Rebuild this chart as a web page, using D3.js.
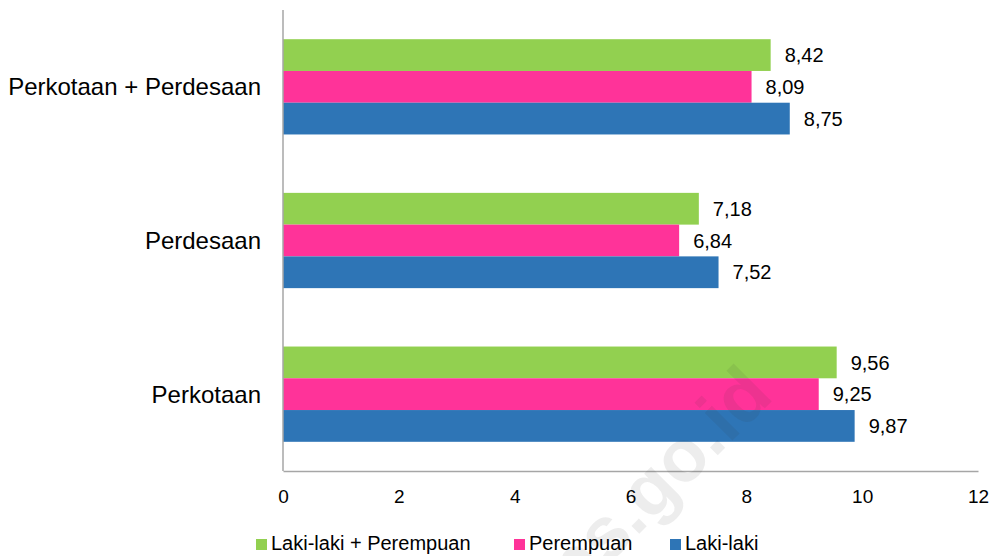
<!DOCTYPE html>
<html>
<head>
<meta charset="utf-8">
<script src="https://cdn.jsdelivr.net/npm/d3@7"></script>
<style>
  html, body { margin: 0; padding: 0; background: #fff; }
  svg { display: block; font-family: "Liberation Sans", Arial, sans-serif; }
</style>
</head>
<body>
<svg id="chart" width="1000" height="556"></svg>
<script>
// Categories, top to bottom
const categories = ["Perkotaan + Perdesaan", "Perdesaan", "Perkotaan"];
// Series names (legend order) and values per category
const seriesNames = ["Laki-laki + Perempuan", "Perempuan", "Laki-laki"];
const totalValues = [8.42, 7.18, 9.56];
const femaleValues = [8.09, 6.84, 9.25];
const maleValues = [8.75, 7.52, 9.87];
const seriesColors = ["#92D050", "#FF3399", "#2E75B6"];
const xTicks = [0, 2, 4, 6, 8, 10, 12];

const seriesValues = [totalValues, femaleValues, maleValues];
const fmt = v => v.toFixed(2).replace(".", ",");

const svg = d3.select("#chart");
const plotLeft = 283, plotRight = 978, plotTop = 10, plotBottom = 471;

const x = d3.scaleLinear().domain([0, 12]).range([plotLeft, plotRight]);
const y = d3.scaleBand().domain(categories).range([plotTop, plotBottom]).paddingInner(0.38).paddingOuter(0.19);
const ySub = d3.scaleBand().domain(seriesNames).range([0, y.bandwidth()]);

// Bars and value labels
const groups = svg.append("g").selectAll("g")
  .data(categories)
  .join("g")
  .attr("transform", d => `translate(0,${y(d)})`);

groups.each(function(cat, ci) {
  const g = d3.select(this);
  seriesNames.forEach((s, si) => {
    const v = seriesValues[si][ci];
    g.append("rect")
      .attr("x", x(0))
      .attr("y", ySub(s))
      .attr("width", x(v) - x(0))
      .attr("height", ySub.bandwidth())
      .attr("fill", seriesColors[si]);
    g.append("text")
      .attr("x", x(v) + 14)
      .attr("y", ySub(s) + ySub.bandwidth() / 2)
      .attr("dy", "0.36em")
      .attr("font-size", 20)
      .attr("fill", "#000")
      .text(fmt(v));
  });
});

// Category labels
svg.append("g").selectAll("text")
  .data(categories)
  .join("text")
  .attr("x", 261)
  .attr("y", d => y(d) + y.bandwidth() / 2)
  .attr("dy", "0.35em")
  .attr("text-anchor", "end")
  .attr("font-size", 24)
  .attr("fill", "#000")
  .text(d => d);

// Axis lines
svg.append("line")
  .attr("x1", plotLeft).attr("x2", plotLeft).attr("y1", plotTop).attr("y2", plotBottom)
  .attr("stroke", "#a6a6a6").attr("stroke-width", 1.5);

const xAxis = d3.axisBottom(x).tickValues(xTicks).tickSize(0).tickPadding(19).tickFormat(d => d);
const ax = svg.append("g").attr("transform", `translate(0,${plotBottom})`).call(xAxis);
ax.select(".domain").attr("stroke", "#a6a6a6").attr("stroke-width", 1.5);
ax.selectAll("text").attr("font-size", 19).attr("fill", "#000")
  .attr("font-family", "'Liberation Sans', Arial, sans-serif");

// Legend
const legendItems = [
  { name: seriesNames[0], color: seriesColors[0], x: 256 },
  { name: seriesNames[1], color: seriesColors[1], x: 514 },
  { name: seriesNames[2], color: seriesColors[2], x: 670 }
];
const lg = svg.append("g").selectAll("g").data(legendItems).join("g")
  .attr("transform", d => `translate(${d.x},550)`);
lg.append("rect").attr("x", 0).attr("y", -11).attr("width", 11).attr("height", 11).attr("fill", d => d.color);
lg.append("text").attr("x", 15).attr("font-size", 20).attr("fill", "#000").text(d => d.name);

// Watermark drawn over the plot
svg.append("text")
  .attr("transform", "translate(659,514) rotate(-45)")
  .attr("text-anchor", "middle")
  .attr("font-size", 74)
  .attr("font-weight", "bold")
  .attr("fill", "#3a3a3a")
  .attr("fill-opacity", 0.09)
  .text("bps.go.id");
</script>
</body>
</html>
